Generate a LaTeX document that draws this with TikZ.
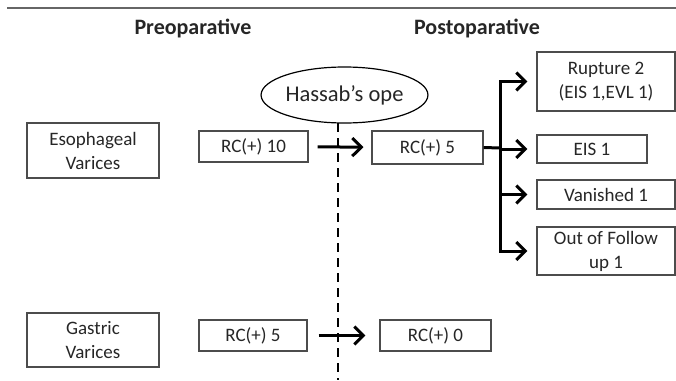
\documentclass[tikz,border=0pt]{standalone}
\usepackage{fontspec}
\setmainfont{Carlito}
\usetikzlibrary{arrows.meta,shapes.geometric}

\begin{document}
\begin{tikzpicture}[x=1pt,y=-1pt,
  box/.style={draw=black!70,line width=1.1pt,inner sep=1pt,align=center,
    font=\fontsize{19}{24}\selectfont,text=black!85},
  flow/.style={-{Straight Barb[length=9pt,width=18pt]},line width=3pt},
  head/.style={font=\bfseries\fontsize{22}{26}\selectfont,text=black!85}]
  \useasboundingbox (0,0) rectangle (676,380);
  \draw[black!60,line width=1.2pt] (7,8) -- (676,8);
  \node[head] (pre) at (193,28) {Preoparative};
  \node[head] (post) at (477,28) {Postoparative};
  % operation and the cut line
  \node[ellipse,draw,line width=1.2pt,minimum width=145pt,minimum height=56pt,inner sep=0pt,
    font=\fontsize{22.5}{26}\selectfont,text=black!85] (hassab) at (344.5,95) {Hassab's ope};
  \coordinate (cuttop) at (338,123);
  \coordinate (cutbot) at (338,380);
  \draw[line width=2.2pt,dash pattern=on 9pt off 6pt] (cuttop) -- (cutbot);
  % esophageal varices
  \node[box,minimum width=132pt,minimum height=55pt] (eso) at (93,150.5) {Esophageal\\Varices};
  \node[box,minimum width=109pt,minimum height=31pt] (rcten) at (253.5,146.5) {RC(+) 10};
  \node[box,minimum width=111pt,minimum height=33pt] (rcfive) at (427.5,147.5) {RC(+) 5};
  \node[box,minimum width=138pt,minimum height=59pt] (rup) at (606,81.5) {Rupture 2\\(EIS 1,EVL 1)};
  \node[box,minimum width=110pt,minimum height=28pt] (eis) at (592,149) {EIS 1};
  \node[box,minimum width=138pt,minimum height=29pt] (van) at (606,194.5) {Vanished 1};
  \node[box,minimum width=138pt,minimum height=48pt] (out) at (606,251) {Out of Follow\\up 1};
  \draw[flow,shorten <=9pt,shorten >=8pt] (rcten) -- (rcfive);
  \coordinate (fork) at (500,148);
  \draw[line width=3pt] (rcfive.east) -- (fork);
  \foreach \n in {rup,eis,van,out}
    \draw[flow,shorten >=9pt] (fork) |- (\n.west);
  % gastric varices
  \node[box,minimum width=132pt,minimum height=54pt] (gas) at (93,340) {Gastric\\Varices};
  \node[box,minimum width=108pt,minimum height=31pt] (grcfive) at (253,335.5) {RC(+) 5};
  \node[box,minimum width=111pt,minimum height=31pt] (grczero) at (435.5,335.5) {RC(+) 0};
  \draw[flow,shorten <=11pt,shorten >=14pt] (grcfive) -- (grczero);
\end{tikzpicture}
\end{document}
